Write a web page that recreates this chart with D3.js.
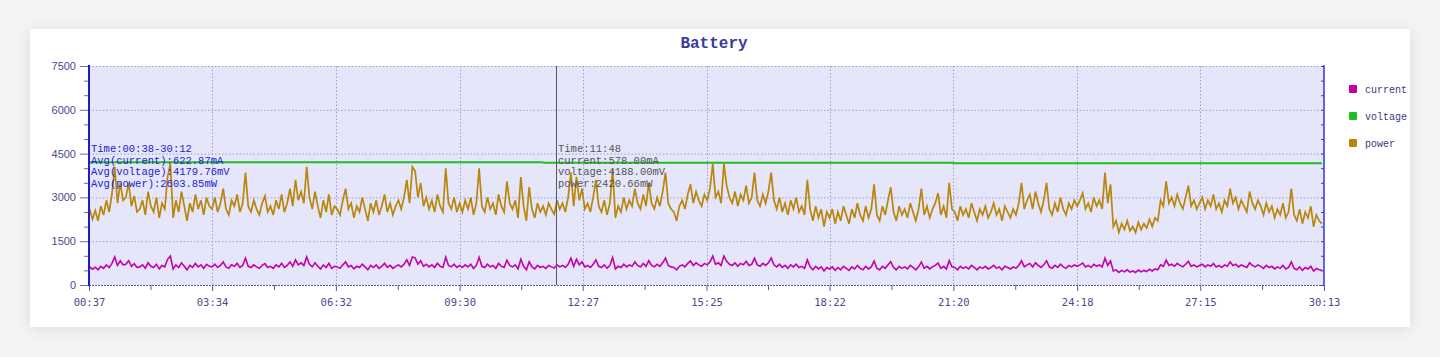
<!DOCTYPE html>
<html>
<head>
<meta charset="utf-8">
<script src="https://cdn.jsdelivr.net/npm/d3@7"></script>
<style>
  html, body { margin: 0; padding: 0; width: 1440px; height: 357px; background: #f4f4f4; overflow: hidden; }
  #card { position: absolute; left: 30px; top: 29px; width: 1380px; height: 298px; background: #ffffff;
          box-shadow: 0 2px 14px rgba(0,0,0,0.10); }
  svg { position: absolute; left: 0; top: 0; }
</style>
</head>
<body>
<div id="card"></div>
<svg id="chart" width="1440" height="357"></svg>
<script>
// ---------------- data ----------------
const chartTitle = "Battery";
const seriesNames = ["current", "voltage", "power"];
const startSec = 38;     // first sample 00:38
const stepSec = 4;       // sample spacing (s)

const power = [
  2600,2250,2550,2200,2700,2400,2900,2500,3100,4050,2800,3500,2900,3000,3500,2700,3050,2500,2600,2900,2400,3200,2700,2500,3000,2300,2800,2600,3700,4150,2300,2900,2500,3200,2700,2200,2800,2500,3100,2600,2900,2400,3000,2700,
  2600,3000,2500,2800,3300,2600,2400,2900,2700,3100,2500,2800,3850,2700,2500,2900,2600,2400,2800,3050,2500,2700,2400,2900,2600,3100,2500,2800,3300,2700,3600,2900,3200,2800,4050,3000,2600,3200,2700,2300,2900,2500,3100,2400,2700,
  2600,2400,2900,3300,2600,2800,2300,2700,2500,3000,2600,2200,2800,2500,2900,2400,2700,3100,2500,2800,2400,2700,2900,2600,3000,3600,2800,4050,3900,3000,3500,2700,3000,2600,2900,2500,3100,2700,2500,4000,2800,2600,3000,2500,
  2800,2500,2900,2600,3000,2400,2800,4000,2700,2500,3000,2600,2800,2400,3100,2700,2500,3550,2800,2600,2900,2300,3700,2700,2200,3350,2600,2300,2800,2500,2700,2400,2800,2600,2420,2900,2600,2800,2500,3000,3850,2700,3700,2900,
  3300,2600,2800,2500,3000,3600,2700,2500,2900,2400,2800,3950,2300,2700,2500,3000,2600,2900,2700,3300,2800,2600,3100,2700,3500,2800,2600,3000,2700,3200,3850,2800,2600,2500,2200,2700,2900,2600,3100,3450,2800,3200,2900,2700,3100,
  2900,3300,4150,3000,3200,2800,4150,3400,3000,2800,3200,2700,3100,2900,3400,2800,3000,3850,2900,2700,3100,2800,3200,3850,2900,2600,3000,2500,2800,2400,2900,2600,3000,2500,2700,2400,3600,2600,2200,2700,2300,2600,2000,2500,
  2300,2600,2100,2500,2200,2700,2400,2100,2600,2300,2800,2400,2200,2700,2300,2600,3450,2400,2200,2700,2400,2900,3350,2500,2200,2700,2400,2600,2300,2800,2500,2200,2600,3300,2400,2700,2300,2600,2800,3150,2400,2700,2300,3500,2600,
  2500,2200,2700,2400,2600,2300,2800,2500,2200,2600,2400,2700,2300,2500,2800,2400,2600,2200,2700,2500,2300,2600,2400,2800,3500,2600,2900,3100,2600,3200,2800,2500,2900,3500,2600,2400,2800,2500,3000,2600,2400,2800,2600,2900,
  2700,2900,3150,2600,2800,2500,3000,2700,2900,2600,3850,2800,3450,2000,2200,1800,2100,1900,2200,1850,2000,1800,2150,1900,2100,1950,2250,2000,2300,2200,2900,2700,3550,2800,3000,2700,3100,2800,2600,3000,3400,2700,2900,2600,
  2800,3000,2600,2900,2700,3100,2600,2800,2500,2900,2700,3300,2800,3000,2600,2900,2700,2500,3200,2800,2600,2900,2700,2400,2800,2500,2700,2300,2600,2400,2800,2300,2500,3300,2400,2200,2600,2100,2500,2300,2700,2000,2400,2200,2100
];

const current = [
  620,540,610,520,640,570,690,600,740,960,670,830,690,710,830,640,730,600,620,690,570,760,640,600,710,550,670,620,880,990,550,690,600,760,640,520,670,600,740,620,690,570,710,640,
  620,710,600,670,790,620,570,690,640,740,600,670,920,640,600,690,620,570,670,730,600,640,570,690,620,740,600,670,790,640,860,690,760,670,960,710,620,760,640,550,690,600,740,570,640,
  620,570,690,790,620,670,550,640,600,710,620,520,670,600,690,570,640,740,600,670,570,640,690,620,710,860,670,960,930,710,830,640,710,620,690,600,740,640,600,950,670,620,710,600,
  670,600,690,620,710,570,670,950,640,600,710,620,670,570,740,640,600,850,670,620,690,550,880,640,520,800,620,550,670,600,640,570,670,620,578,690,620,670,600,710,920,640,880,690,
  790,620,670,600,710,860,640,600,690,570,670,940,550,640,600,710,620,690,640,790,670,620,740,640,830,670,620,710,640,760,920,670,620,600,520,640,690,620,740,820,670,760,690,640,740,
  690,790,990,710,760,670,990,810,710,670,760,640,740,690,810,670,710,920,690,640,740,670,760,920,690,620,710,600,670,570,690,620,710,600,640,570,860,620,520,640,550,620,480,600,
  550,620,500,600,520,640,570,500,620,550,670,570,520,640,550,620,820,570,520,640,570,690,800,600,520,640,570,620,550,670,600,520,620,790,570,640,550,620,670,750,570,640,550,830,620,
  600,520,640,570,620,550,670,600,520,620,570,640,550,600,670,570,620,520,640,600,550,620,570,670,830,620,690,740,620,760,670,600,690,830,620,570,670,600,710,620,570,670,620,690,
  640,690,750,620,670,600,710,640,690,620,920,670,820,480,520,430,500,450,520,440,480,430,510,450,500,460,540,480,550,520,690,640,850,670,710,640,740,670,620,710,810,640,690,620,
  670,710,620,690,640,740,620,670,600,690,640,790,670,710,620,690,640,600,760,670,620,690,640,570,670,600,640,550,620,570,670,550,600,790,570,520,620,500,600,550,640,480,570,520,500
];

const voltageTime = [38, 300, 600, 688, 692, 900, 1200, 1278, 1282, 1500, 1810];
const voltage     = [4200, 4200, 4200, 4200, 4188, 4188, 4188, 4188, 4166, 4166, 4166];

const yTicks = [0, 1500, 3000, 4500, 6000, 7500];
const yMinorTicks = [500, 1000, 2000, 2500, 3500, 4000, 5000, 5500, 6500, 7000];
const xTickSeconds = [37, 214, 392, 570, 747, 925, 1102, 1280, 1458, 1635, 1813];
const xTickLabels = ["00:37","03:34","06:32","09:30","12:27","15:25","18:22","21:20","24:18","27:15","30:13"];

const summaryLines = ["Time:00:38-30:12", "Avg(current):622.87mA", "Avg(voltage):4179.76mV", "Avg(power):2603.85mW"];
const tooltipSec = 708;
const tooltipLines = ["Time:11:48", "current:578.00mA", "voltage:4188.00mV", "power:2420.66mW"];

// ---------------- styles ----------------
const colors = { current: "#c400aa", voltage: "#1fbf1f", power: "#b8860b" };
const axisText = "#4a4a8e";
const margin = { left: 89, right: 1324, top: 66, bottom: 285 };

const svg = d3.select("#chart");
const x = d3.scaleLinear().domain([xTickSeconds[0], xTickSeconds[xTickSeconds.length - 1]]).range([margin.left, margin.right]);
const y = d3.scaleLinear().domain([0, 7500]).range([margin.bottom, margin.top]);

// plot background
svg.append("rect").attr("x", margin.left).attr("y", margin.top)
  .attr("width", margin.right - margin.left).attr("height", margin.bottom - margin.top)
  .attr("fill", "#e6e6fa");

// grid lines
svg.append("g").selectAll("line").data(yTicks.filter(d => d > 0)).join("line")
  .attr("x1", margin.left).attr("x2", margin.right)
  .attr("y1", d => y(d) + 0.5).attr("y2", d => y(d) + 0.5)
  .attr("stroke", "#9c9cd6").attr("stroke-width", 1).attr("stroke-dasharray", "1.5,2");
svg.append("g").selectAll("line").data(xTickSeconds.slice(1, -1)).join("line")
  .attr("x1", d => Math.round(x(d)) + 0.5).attr("x2", d => Math.round(x(d)) + 0.5)
  .attr("y1", margin.top).attr("y2", margin.bottom)
  .attr("stroke", "#9c9cd6").attr("stroke-width", 1).attr("stroke-dasharray", "1.5,2");

// title
svg.append("text").attr("x", 714).attr("y", 48).attr("text-anchor", "middle")
  .attr("font-family", "'Liberation Mono', monospace").attr("font-weight", "bold")
  .attr("font-size", 16).attr("fill", "#3b3b9e").text(chartTitle);

// y axis
const yAxis = svg.append("g").attr("transform", `translate(${margin.left},0)`)
  .call(d3.axisLeft(y).tickValues(yTicks).tickSize(9).tickPadding(4).tickFormat(d3.format("d")));
yAxis.select(".domain").remove();
yAxis.selectAll(".tick line").attr("stroke", "#6a6aa8");
yAxis.selectAll(".tick text").attr("fill", axisText).attr("font-family", "'Liberation Sans', Arial, sans-serif").attr("font-size", 11);
const yMinor = svg.append("g").attr("transform", `translate(${margin.left},0)`)
  .call(d3.axisLeft(y).tickValues(yMinorTicks).tickSize(5).tickFormat(""));
yMinor.select(".domain").remove();
yMinor.selectAll(".tick line").attr("stroke", "#6a6aa8");

// right axis small ticks
const yRight = svg.append("g").attr("transform", `translate(${margin.right},0)`)
  .call(d3.axisLeft(y).tickValues(yTicks.concat(yMinorTicks)).tickSize(3).tickFormat(""));
yRight.select(".domain").remove();
yRight.selectAll(".tick line").attr("stroke", "#3b3bd0");

// x axis
const xAxis = svg.append("g").attr("transform", `translate(0,${margin.bottom})`)
  .call(d3.axisBottom(x).tickValues(xTickSeconds).tickSize(6).tickPadding(8)
    .tickFormat((d, i) => xTickLabels[i]));
xAxis.select(".domain").remove();
xAxis.selectAll(".tick line").attr("stroke", "#5a5aa0");
xAxis.selectAll(".tick text").attr("fill", axisText).attr("font-family", "'DejaVu Sans Mono', monospace").attr("font-size", 10.5);
const xMid = d3.pairs(xTickSeconds).map(p => (p[0] + p[1]) / 2);
const xMinor = svg.append("g").attr("transform", `translate(0,${margin.bottom})`)
  .call(d3.axisBottom(x).tickValues(xMid).tickSize(5).tickFormat(""));
xMinor.select(".domain").remove();
xMinor.selectAll(".tick line").attr("stroke", "#5a5aa0");

// bottom axis line (dotted dark)
svg.append("line").attr("x1", margin.left).attr("x2", margin.right)
  .attr("y1", margin.bottom + 0.5).attr("y2", margin.bottom + 0.5)
  .attr("stroke", "#5555a0").attr("stroke-width", 1.2).attr("stroke-dasharray", "2,1");

// series
const times = power.map((_, i) => startSec + i * stepSec);
const line = d3.line().x(d => x(d[0])).y(d => y(d[1]));
svg.append("path").datum(times.map((t, i) => [t, power[i]]))
  .attr("d", line).attr("fill", "none").attr("stroke", colors.power).attr("stroke-width", 1.7).attr("stroke-linejoin", "miter");
svg.append("path").datum(times.map((t, i) => [t, current[i]]))
  .attr("d", line).attr("fill", "none").attr("stroke", colors.current).attr("stroke-width", 1.6);
svg.append("path").datum(voltageTime.map((t, i) => [t, voltage[i]]))
  .attr("d", line).attr("fill", "none").attr("stroke", colors.voltage).attr("stroke-width", 2);

// left & right axis lines
svg.append("line").attr("x1", margin.left).attr("x2", margin.left).attr("y1", margin.top - 1).attr("y2", margin.bottom + 1)
  .attr("stroke", "#1e1ec8").attr("stroke-width", 2);
svg.append("line").attr("x1", margin.right).attr("x2", margin.right).attr("y1", margin.top - 1).attr("y2", margin.bottom + 1)
  .attr("stroke", "#3434d8").attr("stroke-width", 1.5);

// crosshair
svg.append("line").attr("x1", Math.round(x(tooltipSec)) + 0.5).attr("x2", Math.round(x(tooltipSec)) + 0.5)
  .attr("y1", margin.top).attr("y2", margin.bottom)
  .attr("stroke", "#555566").attr("stroke-width", 1);

// summary text
svg.append("g").selectAll("text").data(summaryLines).join("text")
  .attr("x", margin.left + 2).attr("y", (d, i) => 152 + i * 11.6)
  .attr("font-family", "'Liberation Mono', monospace").attr("font-size", 10.5)
  .attr("fill", "#2222d0").text(d => d);

// tooltip text
svg.append("g").selectAll("text").data(tooltipLines).join("text")
  .attr("x", Math.round(x(tooltipSec)) + 2).attr("y", (d, i) => 152 + i * 11.6)
  .attr("font-family", "'Liberation Mono', monospace").attr("font-size", 10.5)
  .attr("fill", "#555555").text(d => d);

// legend
const legend = svg.append("g").attr("transform", "translate(1349,85)");
const li = legend.selectAll("g").data(seriesNames).join("g")
  .attr("transform", (d, i) => `translate(0,${i * 27})`);
li.append("rect").attr("width", 8).attr("height", 8).attr("rx", 1).attr("fill", d => colors[d]);
li.append("text").attr("x", 16).attr("y", 7.5)
  .attr("font-family", "'Liberation Mono', monospace").attr("font-size", 10)
  .attr("fill", "#3a3a80").text(d => d);
</script>
</body>
</html>
